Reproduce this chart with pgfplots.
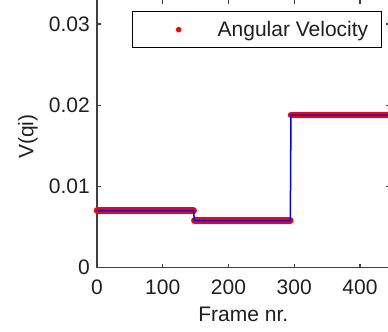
\documentclass[border=0pt]{standalone}
\usepackage{fontspec}
\setmainfont{Liberation Sans}
\usepackage{pgfplots}
\pgfplotsset{compat=1.18}
\definecolor{axgray}{gray}{0.25}
\definecolor{txt}{gray}{0.12}
\newcommand{\bigfont}{\fontsize{21bp}{25bp}\selectfont}
\begin{document}
\begin{tikzpicture}[font=\bigfont]
\begin{axis}[name=ax, scale only axis, width=292.6bp, height=267.9bp,
  xmin=0, xmax=445, ymin=0, ymax=0.033,
  clip=false,
  xtick={0,100,200,300,400},
  ytick={0,0.01,0.02,0.03}, yticklabels={0,0.01,0.02,0.03},
  scaled y ticks=false,
  tick align=inside, major tick length=4bp,
  axis line style={axgray, line width=1.2bp},
  every tick/.style={axgray, line width=1.2bp},
  /pgf/number format/assume math mode=true,
  tick label style={font=\bigfont, text=txt},
  xticklabel style={inner sep=0pt, anchor=north, yshift=-12.5bp},
  yticklabel style={inner sep=0pt, anchor=east, xshift=-7bp},
  xlabel={Frame nr.}, ylabel={V(qi)},
  x label style={at={(axis description cs:0.5,-0.2016)}, anchor=base, text=txt, font=\bigfont},
  y label style={at={(axis description cs:-0.2358,0.4888)}, anchor=center, text=txt, font=\bigfont},
  legend style={at={(axis description cs:0.1196,0.957)}, anchor=north west,
    draw=black, line width=1.3bp, inner xsep=0pt, inner ysep=9.5bp,
    nodes={inner sep=0pt, text=txt}, font=\bigfont},
  legend image code/.code={\path[draw=none] (0bp,0bp) -- (85bp,0bp); \fill[red, draw=none] (46bp,0bp) circle (2.8bp);},
]
\addplot[red, line width=6.5bp, line cap=round, unbounded coords=jump]
  coordinates {(0,0.0070)(147,0.0070)(147.5,nan)(148,0.00576)(294,0.00576)(294.5,nan)(295,0.01878)(445,0.01878)};
\addlegendentry{Angular Velocity\rule{13bp}{0pt}}
\addplot[blue, line width=1.5bp, forget plot]
  coordinates {(0,0.0070)(147,0.0070)(148,0.00576)(294,0.00576)(295,0.01878)(445,0.01878)};
\end{axis}
\pgfresetboundingbox
\path[use as bounding box] ([shift={(-97bp,-64.5bp)}]ax.south west) rectangle ++(388bp,332bp);
\end{tikzpicture}
\end{document}
